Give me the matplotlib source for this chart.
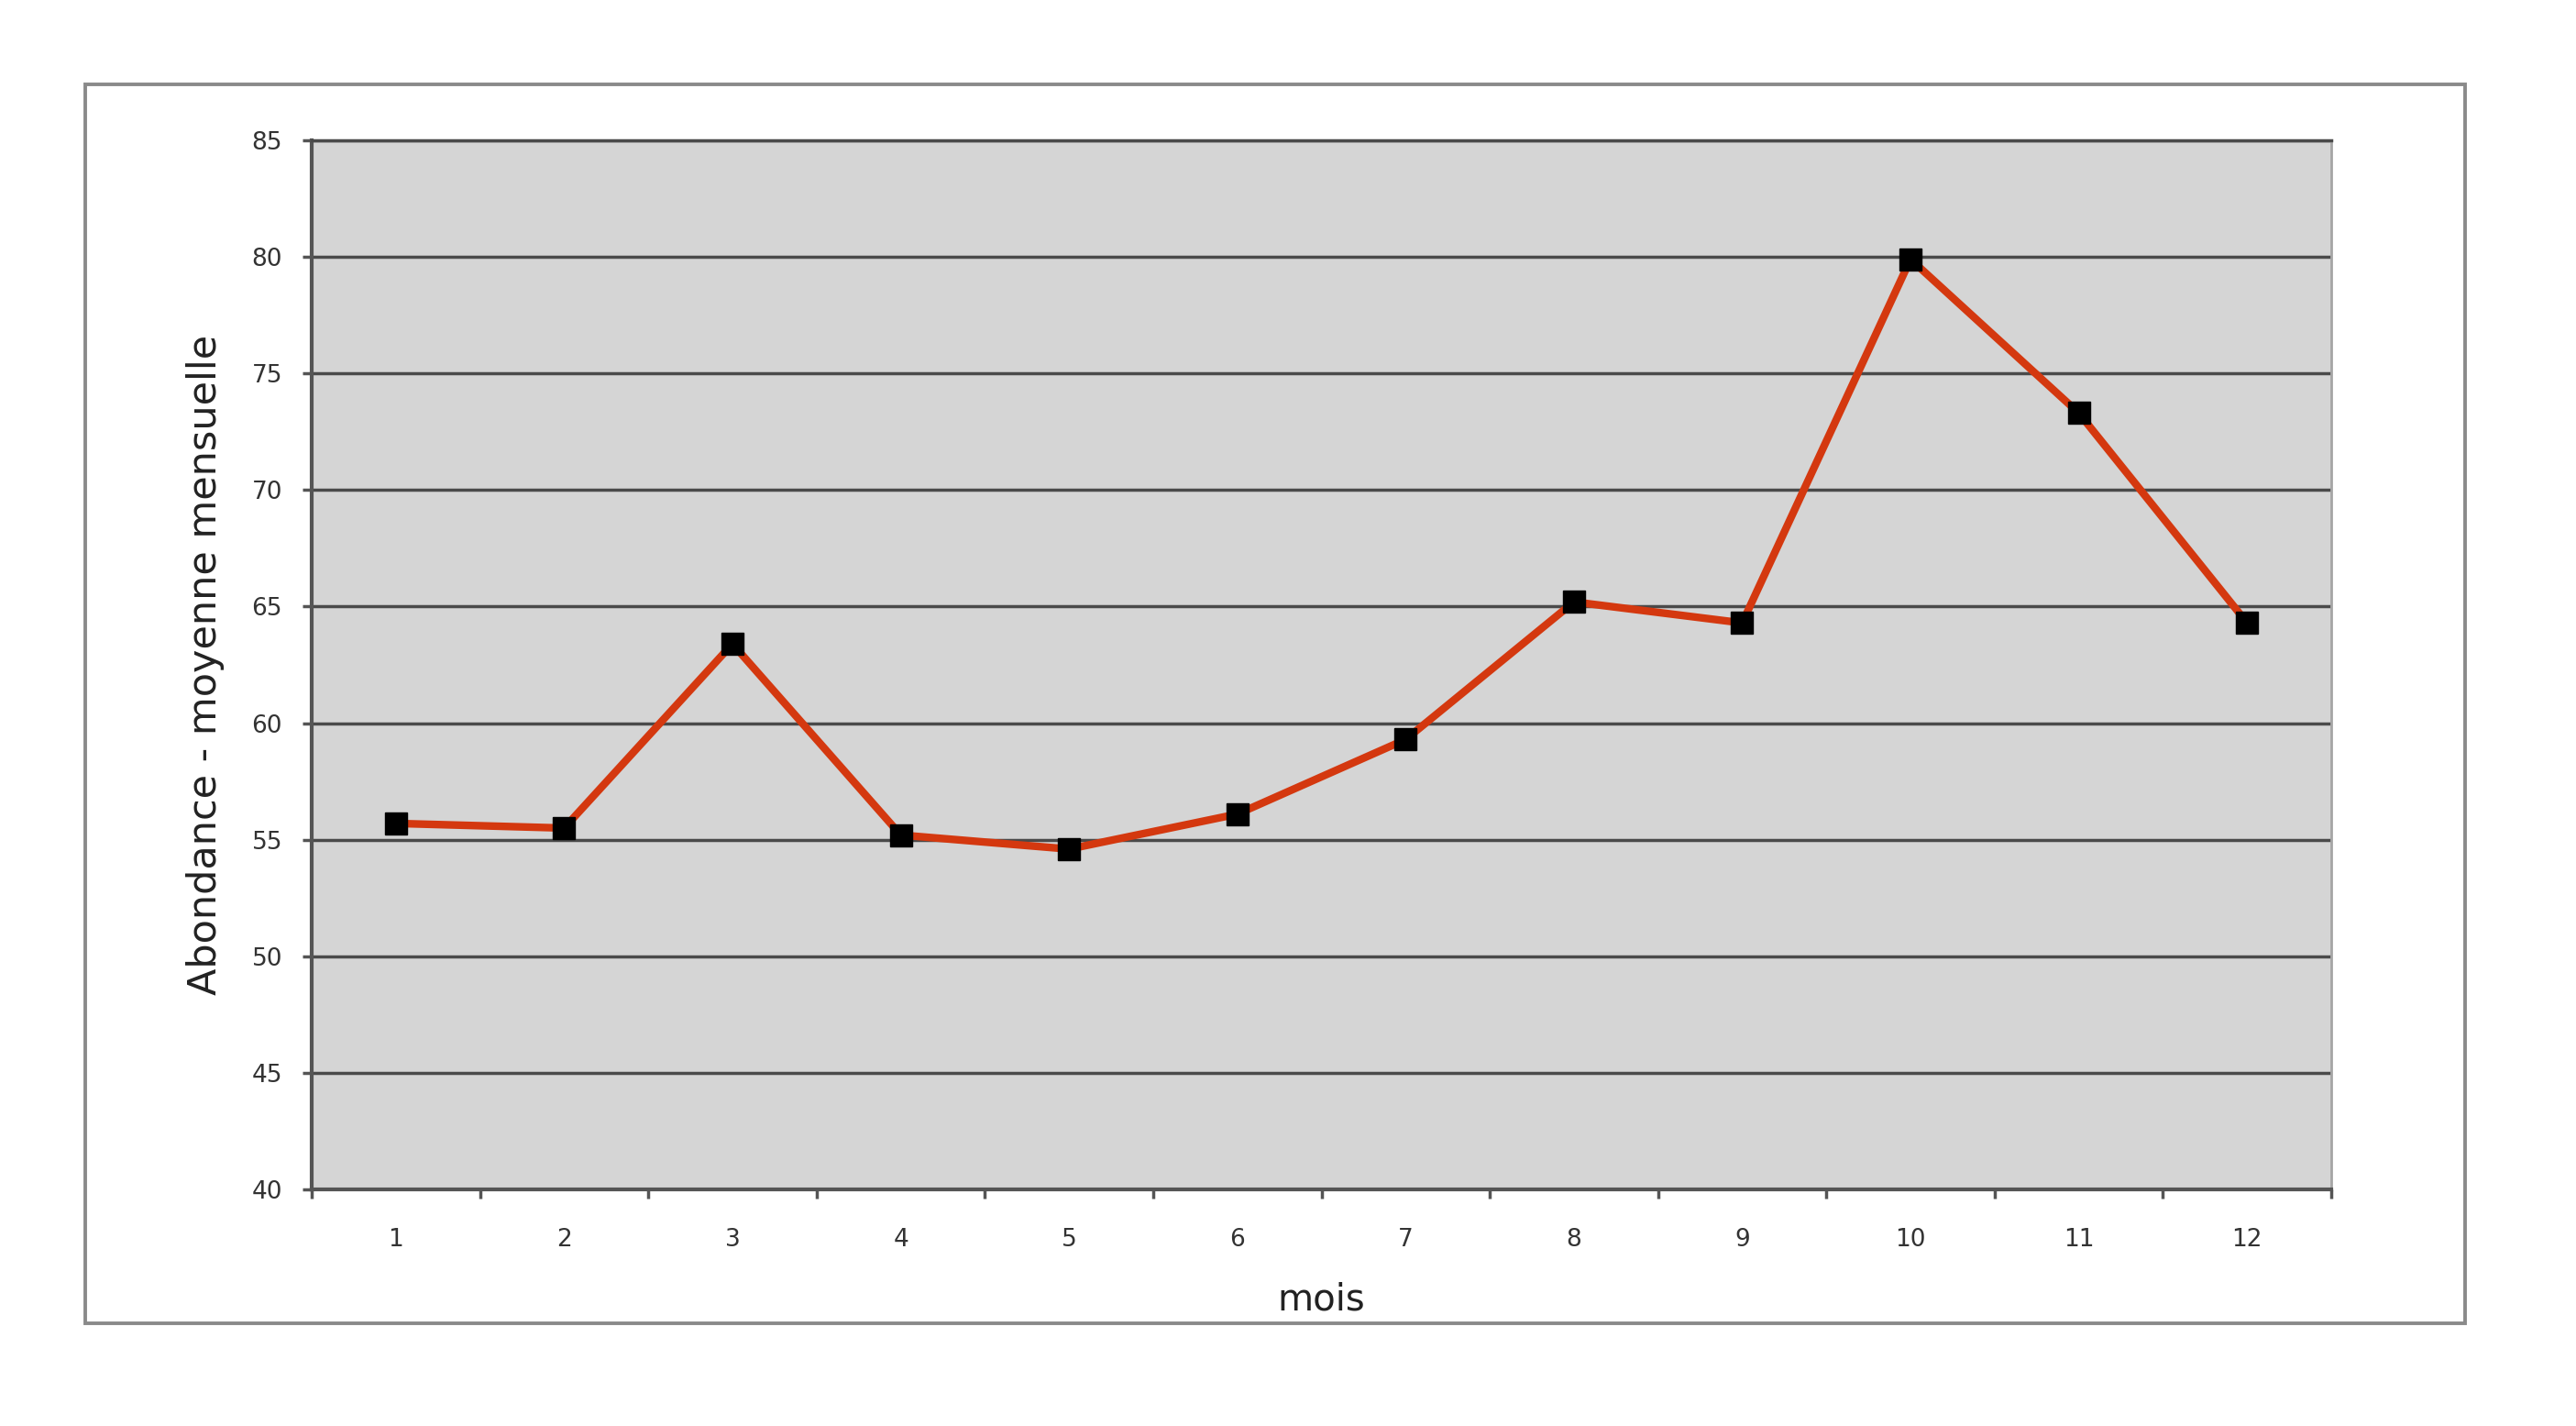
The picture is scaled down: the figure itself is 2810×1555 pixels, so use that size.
import matplotlib
matplotlib.use("Agg")
import matplotlib.pyplot as plt
from matplotlib.patches import Rectangle
from matplotlib.ticker import FixedLocator, NullFormatter

# monthly mean abundance
months = [1, 2, 3, 4, 5, 6, 7, 8, 9, 10, 11, 12]
abundance = [55.7, 55.5, 63.4, 55.2, 54.6, 56.1, 59.3, 65.2, 64.3, 79.9, 73.3, 64.3]
y_ticks = [40, 45, 50, 55, 60, 65, 70, 75, 80, 85]
x_label = "mois"
y_label = "Abondance - moyenne mensuelle"

plt.rcParams["font.family"] = ["DejaVu Sans"]

fig = plt.figure(figsize=(28.1, 15.55), dpi=100)
fig.patch.set_facecolor("white")

# outer chart frame (Excel style)
frame = Rectangle((0.0331, 0.072), 0.957 - 0.0331, 0.9408 - 0.072,
                  transform=fig.transFigure, fill=False,
                  edgecolor="#8a8a8a", linewidth=2.8, zorder=0)
fig.patches.append(frame)

ax = fig.add_axes([0.121, 0.1659, 0.905 - 0.121, 0.9016 - 0.1659])
ax.set_facecolor("#d5d5d5")

ax.plot(months, abundance, color="#d4380f", linewidth=6,
        marker="s", markersize=17, markerfacecolor="black",
        markeredgecolor="black", zorder=3, clip_on=False)

ax.set_xlim(0.5, 12.5)
ax.set_ylim(40, 85)

ax.set_yticks(y_ticks)
ax.set_yticklabels([str(v) for v in y_ticks])
ax.yaxis.grid(True, color="#4a4a4a", linewidth=2.5)
ax.set_axisbelow(True)

# category labels centred, tick marks on category boundaries
ax.set_xticks(months)
ax.set_xticklabels([str(m) for m in months])
ax.xaxis.set_minor_locator(FixedLocator([m - 0.5 for m in months] + [12.5]))
ax.xaxis.set_minor_formatter(NullFormatter())
ax.tick_params(axis="x", which="major", length=0, pad=30,
               labelsize=19, labelcolor="#333333")
ax.tick_params(axis="x", which="minor", length=7, width=2.5,
               color="#555555", direction="out")
ax.tick_params(axis="y", length=7, width=2.5, color="#555555",
               pad=16, labelsize=19, labelcolor="#333333")

for side in ["left", "bottom"]:
    ax.spines[side].set_color("#555555")
    ax.spines[side].set_linewidth(3)
ax.spines["top"].set_color("#4a4a4a")
ax.spines["top"].set_linewidth(2.5)
ax.spines["right"].set_color("#a5a5a5")
ax.spines["right"].set_linewidth(2)

ax.set_xlabel(x_label, fontsize=29, color="#222222", va="center")
ax.xaxis.set_label_coords(0.5, -0.105)
ax.set_ylabel(y_label, fontsize=31, color="#222222", va="center")
ax.yaxis.set_label_coords(-0.0527, 0.5)

fig.savefig("out.png", dpi=100, facecolor="white")
